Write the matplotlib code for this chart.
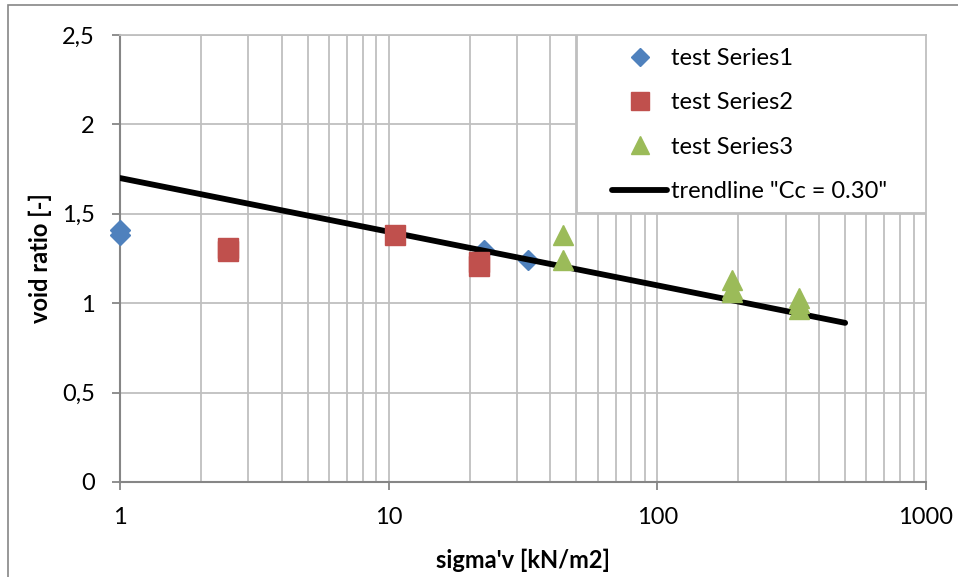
import matplotlib
matplotlib.use('Agg')
import matplotlib.pyplot as plt
from matplotlib.patches import Rectangle
from matplotlib.transforms import IdentityTransform
from matplotlib.ticker import FixedLocator, FuncFormatter, LogLocator, NullFormatter

plt.rcParams.update({
    'font.family': ['Lato', 'DejaVu Sans'],
    'font.size': 17,
})

# data
s1_x = [1, 1, 22.6, 32.9]
s1_y = [1.38, 1.41, 1.30, 1.24]
s2_x = [2.52, 2.52, 10.6, 21.6, 21.6]
s2_y = [1.29, 1.31, 1.38, 1.21, 1.23]
s3_x = [44.7, 44.7, 190, 190, 190, 338, 338, 338]
s3_y = [1.38, 1.24, 1.13, 1.08, 1.06, 1.03, 1.00, 0.97]
trend_x = [1, 500]
trend_y = [1.70, 0.89]

y_ticks = [0, 0.5, 1, 1.5, 2, 2.5]
x_ticks = [1, 10, 100, 1000]

BLUE = '#4F81BD'
RED = '#C0504D'
GREEN = '#9BBB59'
GRID = '#BFBFBF'
AXIS = '#868686'

W, H = 958, 577
fig = plt.figure(figsize=(W / 100, H / 100), dpi=100)
ax = fig.add_axes([120 / W, 1 - 482 / H, 806 / W, 447 / H])

# outer chart border (cropped on right/bottom)
fig.patches.append(Rectangle((8 / W, -0.1), 1.5, 1.1 - 5 / H, transform=fig.transFigure,
                             fill=False, edgecolor=AXIS, lw=1.2, clip_on=False))

h1, = ax.plot(s1_x, s1_y, 'D', color=BLUE, ms=10.5, mec=BLUE, ls='none',
              label='test Series1', zorder=3, clip_on=False)
h4, = ax.plot(trend_x, trend_y, '-', color='black', lw=4.2, solid_capstyle='round',
              label='trendline "Cc = 0.30"', zorder=4)
h2, = ax.plot(s2_x, s2_y, 's', color=RED, ms=14.5, mec=RED, ls='none',
              label='test Series2', zorder=5)
h3, = ax.plot(s3_x, s3_y, '^', color=GREEN, ms=14.5, mec=GREEN, ls='none',
              label='test Series3', zorder=6)

ax.set_xscale('log')
ax.set_xlim(1, 1000)
ax.set_ylim(0, 2.5)
ax.xaxis.set_major_locator(FixedLocator(x_ticks))
ax.xaxis.set_major_formatter(FuncFormatter(lambda v, p: f'{v:g}'))
ax.xaxis.set_minor_locator(LogLocator(base=10, subs=range(2, 10)))
ax.xaxis.set_minor_formatter(NullFormatter())
ax.yaxis.set_major_locator(FixedLocator(y_ticks))
ax.yaxis.set_major_formatter(FuncFormatter(lambda v, p: f'{v:g}'.replace('.', ',')))

ax.grid(True, which='both', axis='x', color=GRID, lw=1.3)
ax.grid(True, which='major', axis='y', color=GRID, lw=1.3)
ax.set_axisbelow(True)

for side in ['top', 'right']:
    ax.spines[side].set_color(GRID)
    ax.spines[side].set_linewidth(1.3)
for side in ['left', 'bottom']:
    ax.spines[side].set_color(AXIS)
    ax.spines[side].set_linewidth(1.5)

ax.tick_params(axis='both', which='major', direction='out', length=6, width=1.3,
               color=AXIS, pad=12, labelsize=17)
ax.tick_params(axis='x', which='minor', length=0)

ax.set_xlabel("sigma'v [kN/m2]", fontweight='bold', fontsize=17, labelpad=15)
ax.set_ylabel('void ratio [-]', fontweight='bold', fontsize=17, labelpad=7)

# legend box (pixel coords)
box = Rectangle((577, H - 213), 926 - 577, 213 - 35, facecolor='white',
                edgecolor=GRID, lw=1.3, zorder=7)
ax.add_patch(box)
box.set_transform(IdentityTransform())

leg = ax.legend(handles=[h1, h2, h3, h4], loc='upper left',
                bbox_to_anchor=(612 / W, 1 - 48 / H), bbox_transform=fig.transFigure,
                frameon=False, borderpad=0, borderaxespad=0, handlelength=2.33,
                handletextpad=0.15, labelspacing=0.99, fontsize=17, numpoints=1,
                markerscale=0.9)
leg.set_zorder(8)

fig.savefig('out.png', dpi=100)
